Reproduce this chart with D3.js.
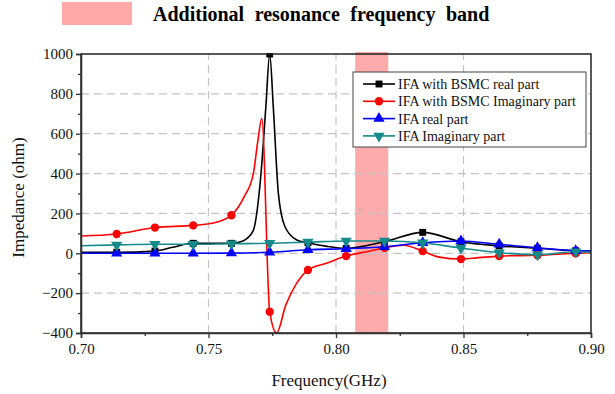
<!DOCTYPE html>
<html>
<head>
<meta charset="utf-8">
<script src="https://cdn.jsdelivr.net/npm/d3@7"></script>
<style>
  html, body { margin: 0; padding: 0; background: #fff; }
  svg { display: block; }
  svg text { font-family: "Liberation Serif", "Times New Roman", serif; }
</style>
</head>
<body>
<svg id="chart" width="615" height="394"></svg>
<script>
// Frequency sweep (GHz) and impedance (ohm) for each trace
const bsmcRealFreq = [0.700, 0.714, 0.729, 0.736, 0.744, 0.759, 0.7635, 0.7675, 0.7695, 0.7706, 0.7725, 0.774, 0.7754, 0.7774, 0.780, 0.7846, 0.789, 0.796, 0.804, 0.819, 0.834, 0.849, 0.864, 0.879, 0.894, 0.900];
const bsmcRealVal  = [5, 5, 11, 30, 50, 50, 62, 112, 260, 403, 736, 1000, 736, 301, 133, 67, 53, 36, 25, 58, 105, 58, 37, 25, 13, 12];

const bsmcImagFreq = [0.700, 0.714, 0.729, 0.744, 0.752, 0.759, 0.764, 0.7676, 0.7694, 0.7709, 0.774, 0.7767, 0.7803, 0.7846, 0.789, 0.7963, 0.804, 0.812, 0.819, 0.8265, 0.834, 0.840, 0.849, 0.856, 0.864, 0.879, 0.894, 0.900];
const bsmcImagVal  = [87, 97, 129, 140, 152, 191, 284, 401, 568, 677, -293, -400, -260, -150, -84, -50, -14, 8, 28, 40, 11, -18, -29, -22, -14, -10, 0, 3];

const ifaFreq     = [0.700, 0.714, 0.729, 0.744, 0.759, 0.774, 0.789, 0.804, 0.819, 0.834, 0.849, 0.864, 0.879, 0.894, 0.900];
const ifaRealVal  = [0, 0, 0, 0, 1, 5, 18, 23, 33, 53, 62, 45, 28, 13, 12];
const ifaImagVal  = [38, 42, 45, 45, 48, 50, 56, 62, 62, 53, 26, 3, -7, 8, 6];

// Frequencies carrying a symbol on every trace
const markerFreq = [0.714, 0.729, 0.744, 0.759, 0.774, 0.789, 0.804, 0.819, 0.834, 0.849, 0.864, 0.879, 0.894];

// Highlighted band (GHz)
const bandRange = [0.8075, 0.8205];

const xTicks = [0.70, 0.75, 0.80, 0.85, 0.90];
const xMinorTicks = [0.725, 0.775, 0.825, 0.875];
const yTicks = [-400, -200, 0, 200, 400, 600, 800, 1000];
const yMinorTicks = [-300, -100, 100, 300, 500, 700, 900];

const seriesNames = ["IFA with BSMC real part", "IFA with BSMC Imaginary part", "IFA real part", "IFA Imaginary part"];
const bandLabel = "Additional resonance frequency band";

const series = [
  { name: seriesNames[0], freq: bsmcRealFreq, val: bsmcRealVal, color: "#000000", symbol: d3.symbolSquare, size: 48 },
  { name: seriesNames[1], freq: bsmcImagFreq, val: bsmcImagVal, color: "#ff0000", symbol: d3.symbolCircle, size: 55 },
  { name: seriesNames[2], freq: ifaFreq, val: ifaRealVal, color: "#0000ff", symbol: d3.symbolTriangle, size: 55, rot: 0 },
  { name: seriesNames[3], freq: ifaFreq, val: ifaImagVal, color: "#148a8a", symbol: d3.symbolTriangle, size: 55, rot: 180 }
];

const SERIF = '"Liberation Serif", "Times New Roman", serif';
const svg = d3.select("#chart");
const margin = { left: 81, right: 24, top: 54, bottom: 61 };
const W = 615, H = 394;
const x = d3.scaleLinear().domain([0.70, 0.90]).range([margin.left, W - margin.right]);
const y = d3.scaleLinear().domain([-400, 1000]).range([H - margin.bottom, margin.top]);

svg.append("defs").append("clipPath").attr("id", "plotClip")
  .append("rect").attr("x", x(0.70)).attr("y", y(1000) - 1)
  .attr("width", x(0.90) - x(0.70)).attr("height", y(-400) - y(1000) + 2);

// Band legend on top
svg.append("rect").attr("x", 62).attr("y", 2).attr("width", 70).attr("height", 23)
  .attr("fill", "#ffa9a9");
svg.append("text").attr("x", 153).attr("y", 21)
  .attr("font-size", 20).attr("font-weight", "bold").attr("word-spacing", 5.5)
  .attr("fill", "#000")
  .text(bandLabel);

// Highlight band
svg.append("rect")
  .attr("x", x(bandRange[0])).attr("width", x(bandRange[1]) - x(bandRange[0]))
  .attr("y", y(1000) - 2).attr("height", y(-400) - y(1000) + 2)
  .attr("fill", "#ff8f8f").attr("opacity", 0.75);

// Dashed grid
const grid = svg.append("g").attr("stroke", "#c4c4c4").attr("stroke-width", 1.2).attr("stroke-dasharray", "8,5");
grid.selectAll("line.h").data(yTicks.filter(v => v !== -400 && v !== 1000)).join("line")
  .attr("x1", x(0.70)).attr("x2", x(0.90)).attr("y1", d => y(d)).attr("y2", d => y(d));
grid.selectAll("line.v").data(xTicks.filter(v => v > 0.70 && v < 0.90)).join("line")
  .attr("y1", y(-400)).attr("y2", y(1000)).attr("x1", d => x(d)).attr("x2", d => x(d));

// Traces
const plot = svg.append("g").attr("clip-path", "url(#plotClip)");
series.forEach(s => {
  const pts = s.freq.map((f, i) => [f, s.val[i]]);
  plot.append("path")
    .attr("d", d3.line().x(d => x(d[0])).y(d => y(d[1])).curve(d3.curveMonotoneX)(pts))
    .attr("fill", "none").attr("stroke", s.color).attr("stroke-width", 1.6);
});
series.forEach(s => {
  const pts = s.freq.map((f, i) => [f, s.val[i]])
    .filter(d => markerFreq.some(m => Math.abs(m - d[0]) < 1e-6));
  plot.selectAll(null).data(pts).join("path")
    .attr("d", d3.symbol().type(s.symbol).size(s.size))
    .attr("transform", d => `translate(${x(d[0])},${y(d[1])}) rotate(${s.rot || 0})`)
    .attr("fill", s.color);
});

// Frame
svg.append("rect").attr("x", x(0.70)).attr("y", y(1000))
  .attr("width", x(0.90) - x(0.70)).attr("height", y(-400) - y(1000))
  .attr("fill", "none").attr("stroke", "#222").attr("stroke-width", 1.5);

// Axes
svg.append("g").attr("transform", `translate(0,${y(-400)})`)
  .call(d3.axisBottom(x).tickValues(xTicks).tickFormat(d3.format(".2f")).tickSize(5).tickPadding(5));
svg.append("g").attr("transform", `translate(0,${y(-400)})`)
  .call(d3.axisBottom(x).tickValues(xMinorTicks).tickFormat("").tickSize(3))
  .call(g => g.select(".domain").remove());
svg.append("g").attr("transform", `translate(${x(0.70)},0)`)
  .call(d3.axisLeft(y).tickValues(yTicks).tickFormat(d3.format("d")).tickSize(5).tickPadding(3));
svg.append("g").attr("transform", `translate(${x(0.70)},0)`)
  .call(d3.axisLeft(y).tickValues(yMinorTicks).tickFormat("").tickSize(3))
  .call(g => g.select(".domain").remove());

svg.selectAll(".tick line").attr("stroke", "#333").attr("stroke-width", 1.3);
svg.selectAll(".domain").attr("stroke", "#333").attr("stroke-width", 1.6);
svg.selectAll(".tick text").style("font-family", SERIF).style("font-size", "15px").attr("fill", "#111");

// Axis titles
svg.append("text").attr("x", (x(0.70) + x(0.90)) / 2 - 7).attr("y", 386)
  .attr("text-anchor", "middle").style("font-size", "17px").attr("fill", "#111")
  .text("Frequency(GHz)");
svg.append("text").attr("transform", `translate(24,${(y(-400) + y(1000)) / 2 + 4}) rotate(-90)`)
  .attr("text-anchor", "middle").style("font-size", "17px").attr("fill", "#111")
  .text("Impedance (ohm)");

// Series legend
const lg = svg.append("g").attr("transform", "translate(353,72)");
lg.append("rect").attr("width", 233).attr("height", 75)
  .attr("fill", "#fff").attr("stroke", "#444").attr("stroke-width", 1);
series.forEach((s, i) => {
  const row = lg.append("g").attr("transform", `translate(0,${12 + i * 17.3})`);
  row.append("line").attr("x1", 10).attr("x2", 42).attr("stroke", s.color).attr("stroke-width", 1.6);
  row.append("path").attr("d", d3.symbol().type(s.symbol).size(s.size))
    .attr("transform", `translate(26,0) rotate(${s.rot || 0})`).attr("fill", s.color);
  row.append("text").attr("x", 45).attr("y", 5).style("font-size", "14px").attr("fill", "#111").text(s.name);
});
</script>
</body>
</html>
